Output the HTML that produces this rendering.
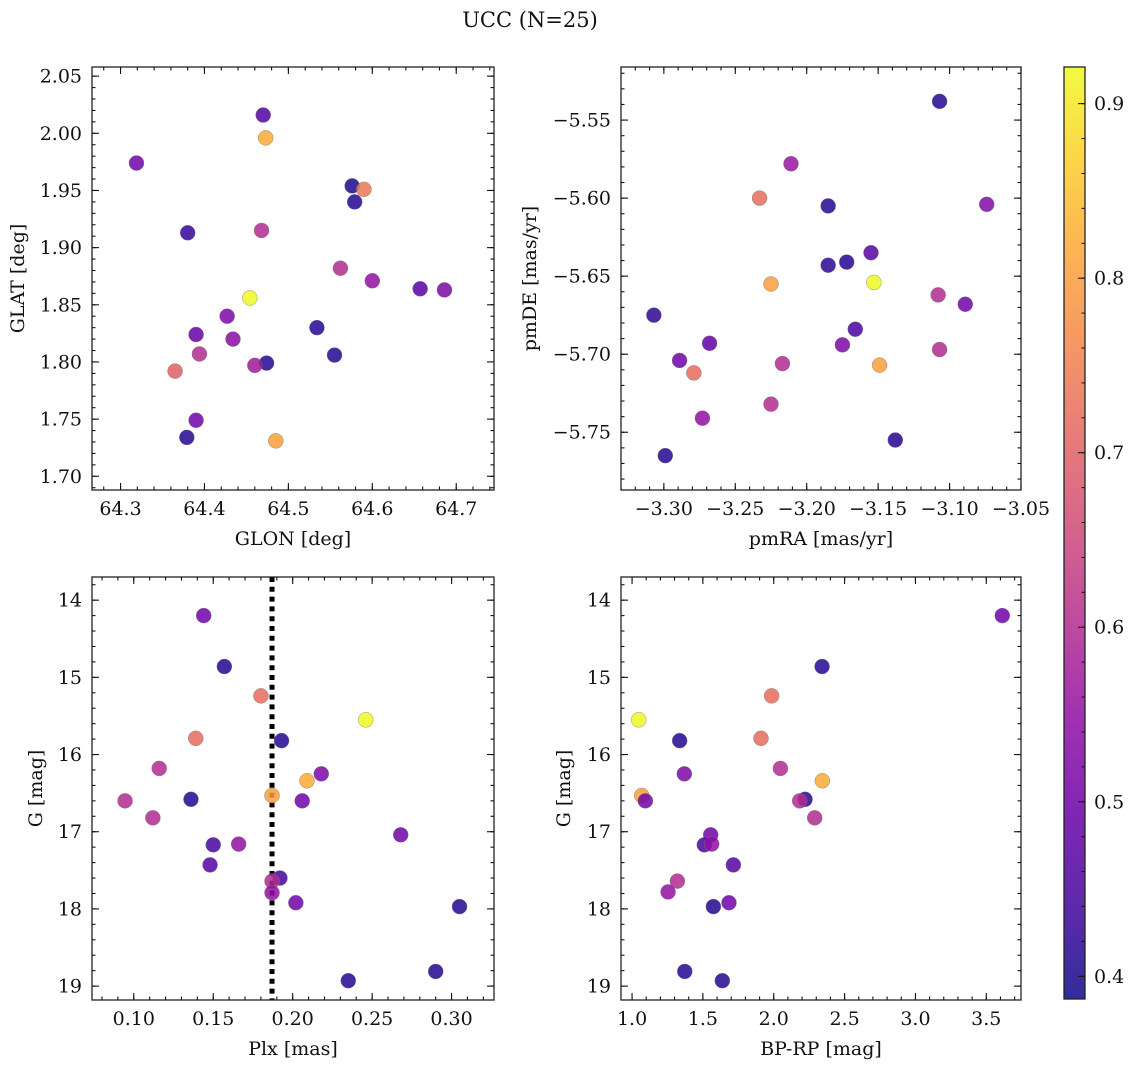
<!DOCTYPE html>
<html><head><meta charset="utf-8">
<style>
html,body{margin:0;padding:0;background:#fff;}
svg{display:block;font-family:"DejaVu Serif","Liberation Serif",serif;}
</style></head>
<body>
<svg id="fig" width="1136" height="1067" viewBox="0 0 1136 1067" xmlns="http://www.w3.org/2000/svg">
<text x="530" y="27" font-size="21" text-anchor="middle" fill="#111">UCC (N=25)</text>
</svg>
<script>
// ---- Panel 1: GLON / GLAT
const p1X = [64.319,64.470,64.473,64.576,64.590,64.579,64.380,64.468,64.562,64.600,64.657,64.686,64.454,64.427,64.534,64.390,64.434,64.555,64.394,64.474,64.460,64.365,64.390,64.379,64.485];
const p1Y = [1.974,2.016,1.996,1.954,1.951,1.940,1.913,1.915,1.882,1.871,1.864,1.863,1.856,1.840,1.830,1.824,1.820,1.806,1.807,1.799,1.797,1.792,1.749,1.734,1.731];
const p1C = [0.50,0.46,0.82,0.40,0.74,0.41,0.43,0.60,0.60,0.55,0.47,0.52,0.92,0.52,0.41,0.49,0.54,0.41,0.60,0.41,0.57,0.70,0.50,0.41,0.80];
// ---- Panel 2: pmRA / pmDE
const p2X = [-3.107,-3.211,-3.233,-3.185,-3.074,-3.155,-3.172,-3.185,-3.153,-3.225,-3.108,-3.089,-3.307,-3.166,-3.268,-3.175,-3.107,-3.289,-3.217,-3.149,-3.279,-3.225,-3.273,-3.138,-3.299];
const p2Y = [-5.538,-5.578,-5.600,-5.605,-5.604,-5.635,-5.641,-5.643,-5.654,-5.655,-5.662,-5.668,-5.675,-5.684,-5.693,-5.694,-5.697,-5.704,-5.706,-5.707,-5.712,-5.732,-5.741,-5.755,-5.765];
const p2C = [0.41,0.56,0.72,0.41,0.53,0.47,0.41,0.42,0.92,0.80,0.60,0.50,0.42,0.45,0.48,0.52,0.60,0.50,0.60,0.80,0.72,0.60,0.55,0.41,0.41];
// ---- Panel 3: Plx / G
const p3X = [0.144,0.157,0.180,0.246,0.139,0.193,0.116,0.218,0.209,0.187,0.136,0.0945,0.206,0.112,0.268,0.150,0.166,0.148,0.192,0.187,0.187,0.202,0.305,0.290,0.235];
const p3Y = [14.20,14.86,15.24,15.55,15.79,15.82,16.18,16.25,16.34,16.53,16.58,16.60,16.60,16.82,17.04,17.17,17.16,17.43,17.60,17.64,17.79,17.92,17.97,18.81,18.93];
const p3C = [0.50,0.41,0.72,0.92,0.72,0.41,0.60,0.52,0.82,0.80,0.41,0.60,0.50,0.60,0.50,0.45,0.55,0.47,0.45,0.60,0.55,0.50,0.41,0.41,0.41];
const plxMedian = 0.187;
// ---- Panel 4: BP-RP / G
const p4X = [3.613,2.341,1.985,1.047,1.910,1.336,2.047,1.369,2.343,1.068,2.221,2.183,1.094,2.289,1.555,1.510,1.562,1.715,1.320,1.254,1.684,1.574,1.372,1.637];
const p4Y = [14.20,14.86,15.24,15.55,15.79,15.82,16.18,16.25,16.34,16.53,16.58,16.60,16.60,16.82,17.04,17.17,17.16,17.43,17.64,17.78,17.92,17.97,18.81,18.93];
const p4C = [0.50,0.41,0.72,0.92,0.72,0.41,0.60,0.52,0.82,0.80,0.41,0.60,0.50,0.60,0.50,0.45,0.55,0.47,0.60,0.55,0.50,0.41,0.41,0.41];
// ---- Colorbar
const cbTicks = [0.4,0.5,0.6,0.7,0.8,0.9];
const vmin = 0.387, vmax = 0.921;

const NS = "http://www.w3.org/2000/svg";
const svg = document.getElementById('fig');
const FS = 19;
function mk(tag, attrs, parent){ const e=document.createElementNS(NS,tag); for(const k in attrs) e.setAttribute(k,attrs[k]); (parent||svg).appendChild(e); return e; }

const stops=[[0,13,8,135],[0.1,65,4,157],[0.2,106,0,168],[0.3,143,13,164],[0.4,177,42,144],[0.5,204,71,120],[0.6,225,100,98],[0.7,242,132,75],[0.8,252,166,54],[0.9,252,206,37],[1,240,249,33]];
function plasma(t){ t=Math.max(0,Math.min(1,t)); for(let i=0;i<stops.length-1;i++){ const a=stops[i],b=stops[i+1]; if(t<=b[0]){ const f=(t-a[0])/(b[0]-a[0]); return `rgb(${Math.round(a[1]+f*(b[1]-a[1]))},${Math.round(a[2]+f*(b[2]-a[2]))},${Math.round(a[3]+f*(b[3]-a[3]))})`; } } return 'rgb(240,249,33)'; }
function cmap(v){ return plasma((v-vmin)/(vmax-vmin)); }
function fmt(v,d){ const s=v.toFixed(d); return s.replace('-','\u2212'); }

function panel(cfg){
  const {L,R,T,B,xlim,ylim,yInv,xMaj,xMin,yMaj,yMin,xd,yd,xs,ys,cs,xlabel,ylabel,ylabX,name}=cfg;
  const g=mk('g',{});
  
  
  const sx=v=>L+(v-xlim[0])/(xlim[1]-xlim[0])*(R-L);
  const sy=v=> yInv ? T+(v-ylim[0])/(ylim[1]-ylim[0])*(B-T) : B-(v-ylim[0])/(ylim[1]-ylim[0])*(B-T);
  const tg=mk('g',{stroke:'#111','stroke-width':1.1},g);
  function ticks(step,lim,isX,len){
    const n0=Math.ceil((lim[0]-1e-9)/step), n1=Math.floor((lim[1]+1e-9)/step);
    for(let n=n0;n<=n1;n++){ const v=n*step;
      if(isX){ const x=sx(v); mk('line',{x1:x,x2:x,y1:B,y2:B-len},tg); mk('line',{x1:x,x2:x,y1:T,y2:T+len},tg); }
      else { const y=sy(v); mk('line',{x1:L,x2:L+len,y1:y,y2:y},tg); mk('line',{x1:R,x2:R-len,y1:y,y2:y},tg); } }
  }
  const ylo=Math.min(...ylim), yhi=Math.max(...ylim);
  ticks(xMin,xlim,true,3.5); ticks(xMaj,xlim,true,7);
  ticks(yMin,[ylo,yhi],false,3.5); ticks(yMaj,[ylo,yhi],false,7);
  const xn0=Math.ceil((xlim[0]-1e-9)/xMaj), xn1=Math.floor((xlim[1]+1e-9)/xMaj);
  for(let n=xn0;n<=xn1;n++){ const v=n*xMaj; const t=mk('text',{x:sx(v),y:B+25,'font-size':FS,'text-anchor':'middle',fill:'#111'},g); t.textContent=fmt(v,xd);
    
     }
  const yn0=Math.ceil((ylo-1e-9)/yMaj), yn1=Math.floor((yhi+1e-9)/yMaj);
  for(let n=yn0;n<=yn1;n++){ const v=n*yMaj; const t=mk('text',{x:L-10,y:sy(v)+6.5,'font-size':FS,'text-anchor':'end',fill:'#111'},g); t.textContent=fmt(v,yd);
    
     }
  const xl=mk('text',{x:(L+R)/2,y:B+55,'font-size':FS,'text-anchor':'middle',fill:'#111'},g); xl.textContent=xlabel;
  
  
  const yl=mk('text',{x:ylabX,y:(T+B)/2,'font-size':FS,'text-anchor':'middle',fill:'#111',transform:`rotate(-90 ${ylabX} ${(T+B)/2})`},g); yl.textContent=ylabel;
  
  
  if(cfg.vline!==undefined){ const x=sx(cfg.vline); const ln=mk('line',{x1:x,x2:x,y1:T,y2:B,stroke:'#000','stroke-width':5,'stroke-dasharray':'5 4.8'},g);
    
     }
  for(let i=0;i<xs.length;i++){ const c=mk('circle',{cx:sx(xs[i]),cy:sy(ys[i]),r:7.5,fill:cmap(cs[i]),'fill-opacity':0.85,stroke:'#777','stroke-width':0.4},g);
    
     }
  mk('rect',{x:L,y:T,width:R-L,height:B-T,fill:'none',stroke:'#222','stroke-width':1.3},g);
}

panel({name:'glon-glat-panel',L:92,R:494,T:67,B:490,xlim:[64.266,64.745],ylim:[1.688,2.058],xMaj:0.1,xMin:0.02,yMaj:0.05,yMin:0.01,xd:1,yd:2,xs:p1X,ys:p1Y,cs:p1C,xlabel:'GLON [deg]',ylabel:'GLAT [deg]',ylabX:24});
panel({name:'pm-panel',L:621,R:1021,T:67,B:490,xlim:[-3.330,-3.050],ylim:[-5.787,-5.516],xMaj:0.05,xMin:0.01,yMaj:0.05,yMin:0.01,xd:2,yd:2,xs:p2X,ys:p2Y,cs:p2C,xlabel:'pmRA [mas/yr]',ylabel:'pmDE [mas/yr]',ylabX:536});
panel({name:'plx-g-panel',L:92,R:494,T:577,B:1000,xlim:[0.0737,0.3267],ylim:[13.70,19.18],yInv:true,xMaj:0.05,xMin:0.01,yMaj:1,yMin:0.2,xd:2,yd:0,xs:p3X,ys:p3Y,cs:p3C,xlabel:'Plx [mas]',ylabel:'G [mag]',ylabX:42,vline:plxMedian});
panel({name:'cmd-panel',L:621,R:1021,T:577,B:1000,xlim:[0.922,3.745],ylim:[13.70,19.18],yInv:true,xMaj:0.5,xMin:0.1,yMaj:1,yMin:0.2,xd:1,yd:0,xs:p4X,ys:p4Y,cs:p4C,xlabel:'BP-RP [mag]',ylabel:'G [mag]',ylabX:570});

(function(){
  const L=1064,R=1085,T=67,B=999;
  const g=mk('g',{});
  
  
  const defs=mk('defs',{},g);
  const lg=mk('linearGradient',{id:'cbg',x1:0,y1:1,x2:0,y2:0},defs);
  for(let i=0;i<=20;i++){ const t=i/20; mk('stop',{offset:t,'stop-color':plasma(t),'stop-opacity':0.85},lg); }
  mk('rect',{x:L,y:T,width:R-L,height:B-T,fill:'url(#cbg)'},g);
  const sy=v=>B-(v-vmin)/(vmax-vmin)*(B-T);
  for(let v=0.4;v<=0.92;v+=0.02){ const y=sy(v); mk('line',{x1:R,x2:R-3.5,y1:y,y2:y,stroke:'#111'},g); }
  for(const v of cbTicks){ const y=sy(v); mk('line',{x1:R,x2:R-7,y1:y,y2:y,stroke:'#111'},g);
    const t=mk('text',{x:R+9,y:y+6.5,'font-size':FS,fill:'#111'},g); t.textContent=v.toFixed(1);
    
     }
  mk('rect',{x:L,y:T,width:R-L,height:B-T,fill:'none',stroke:'#222','stroke-width':1.3},g);
})();
</script>
</body></html>
